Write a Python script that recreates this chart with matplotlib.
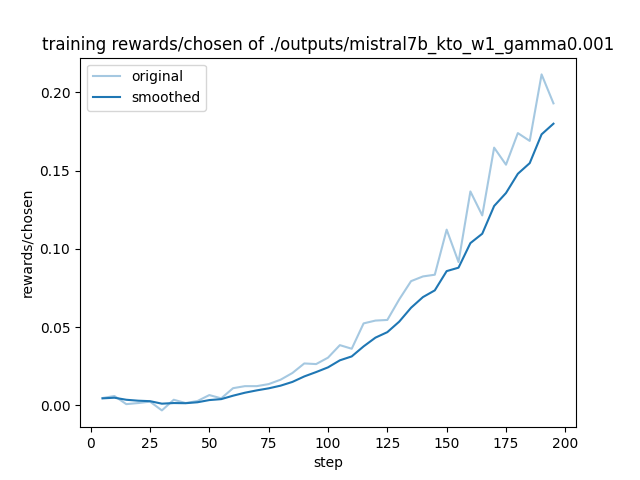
import matplotlib
matplotlib.use("Agg")
import matplotlib.pyplot as plt

#%% data

steps = list(range(5, 200, 5))

original = [0.0047, 0.0060, 0.0008, 0.0015, 0.0024, -0.0032, 0.0036, 0.0015, 0.0028, 0.0066,
            0.0045, 0.0110, 0.0123, 0.0123, 0.0136, 0.0164, 0.0207, 0.0268, 0.0264, 0.0305,
            0.0385, 0.0362, 0.0524, 0.0542, 0.0546, 0.0677, 0.0794, 0.0824, 0.0835, 0.1123,
            0.0916, 0.1367, 0.1214, 0.1647, 0.1538, 0.1740, 0.1690, 0.2115, 0.1930]

smoothed = [0.0045, 0.0049, 0.0036, 0.0030, 0.0027, 0.0011, 0.0015, 0.0014, 0.0020, 0.0034,
            0.0040, 0.0062, 0.0081, 0.0096, 0.0109, 0.0126, 0.0150, 0.0185, 0.0213, 0.0243,
            0.0288, 0.0313, 0.0377, 0.0433, 0.0468, 0.0535, 0.0624, 0.0692, 0.0735, 0.0858,
            0.0880, 0.1037, 0.1097, 0.1274, 0.1357, 0.1480, 0.1548, 0.1732, 0.1800]

#%% plot

plt.figure(figsize=(6.4, 4.8), dpi=100)
plt.plot(steps, original, color="#1f77b4", alpha=0.4, label="original")
plt.plot(steps, smoothed, color="#1f77b4", label="smoothed")
plt.title("training rewards/chosen of ./outputs/mistral7b_kto_w1_gamma0.001")
plt.xlabel("step")
plt.ylabel("rewards/chosen")
plt.legend(loc="upper left")
plt.savefig("out.png", dpi=100)
